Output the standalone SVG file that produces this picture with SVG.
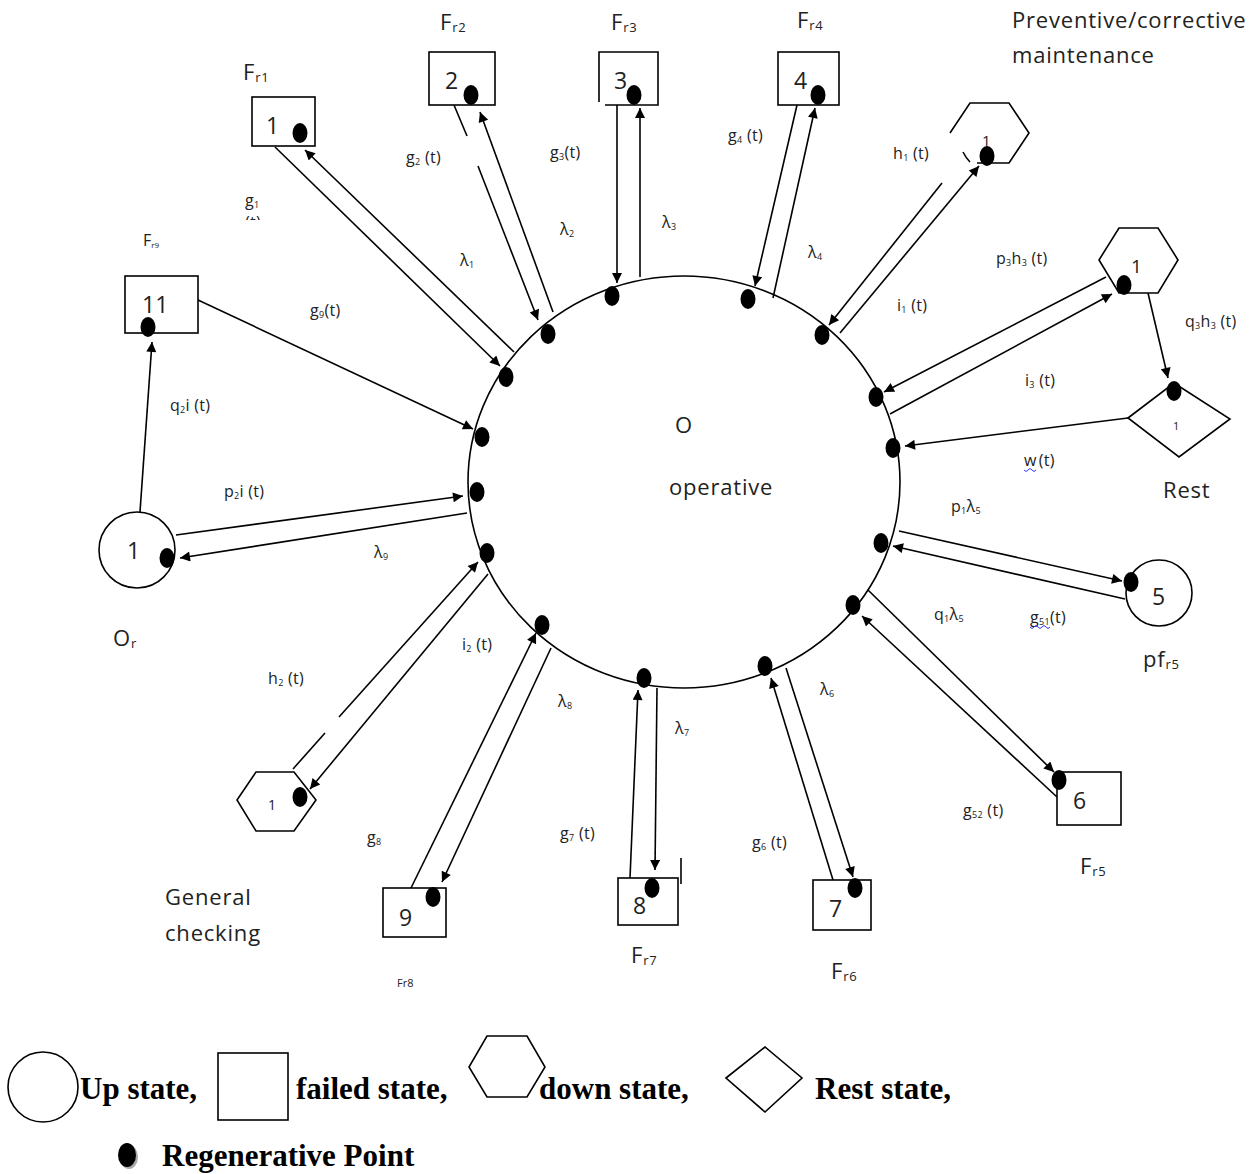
<svg xmlns="http://www.w3.org/2000/svg" width="1254" height="1174" viewBox="0 0 1254 1174">
<style>
.sh{fill:#fff;stroke:#000;stroke-width:1.6}
.ln{stroke:#000;stroke-width:1.6;fill:none}
.ar{stroke:#000;stroke-width:1.6;fill:none;marker-end:url(#arr)}
.dot{fill:#000}
.t{font-family:"Open Sans","DejaVu Sans",sans-serif;fill:#222}
.big{font-size:22px;letter-spacing:0.8px}
.num{font-size:23px}
.sm{font-size:16px;letter-spacing:0.3px}
.lg{font-family:"Liberation Serif","Times New Roman",serif;font-weight:bold;font-size:31px;fill:#000}
</style>
<defs>
<marker id="arr" viewBox="0 0 10 10" refX="10" refY="5" markerWidth="13" markerHeight="10" orient="auto" markerUnits="userSpaceOnUse">
<path d="M0,0 L10,5 L0,10 z" fill="#000"/>
</marker>
<clipPath id="clipT"><rect x="230" y="212" width="60" height="8"/></clipPath>
</defs>
<rect width="1254" height="1174" fill="#fff"/>

<g id="operative">
<ellipse class="ln" cx="684" cy="482" rx="216" ry="206"/>
<text class="t big" x="675" y="433">O</text>
<text class="t big" x="669" y="495">operative</text>
</g>

<g id="connectors">
<line class="ar" x1="275" y1="147" x2="500" y2="366"/>
<line class="ar" x1="514" y1="352" x2="305" y2="150"/>
<line class="ln" x1="454" y1="105" x2="467" y2="136"/>
<line class="ar" x1="478" y1="166" x2="538" y2="320"/>
<line class="ar" x1="553" y1="312" x2="480" y2="112"/>
<line class="ar" x1="617" y1="105" x2="617" y2="283"/>
<line class="ar" x1="640" y1="277" x2="640" y2="108"/>
<line class="ar" x1="797" y1="105" x2="755" y2="286"/>
<line class="ar" x1="773" y1="298" x2="815" y2="108"/>
<line class="ar" x1="942" y1="183" x2="829" y2="325"/>
<line class="ar" x1="840" y1="333" x2="979" y2="166"/>
<line class="ar" x1="1106" y1="277" x2="884" y2="392"/>
<line class="ar" x1="890" y1="414" x2="1112" y2="294"/>
<line class="ar" x1="1148" y1="293" x2="1168" y2="378"/>
<line class="ar" x1="1128" y1="418" x2="905" y2="446"/>
<line class="ar" x1="899" y1="531" x2="1122" y2="581"/>
<line class="ar" x1="1125" y1="599" x2="893" y2="546"/>
<line class="ar" x1="868" y1="590" x2="1054" y2="772"/>
<line class="ar" x1="1057" y1="797" x2="862" y2="616"/>
<line class="ar" x1="833" y1="880" x2="771" y2="678"/>
<line class="ar" x1="786" y1="668" x2="853" y2="877"/>
<line class="ar" x1="630" y1="878" x2="638" y2="690"/>
<line class="ar" x1="657" y1="688" x2="655" y2="870"/>
<line class="ln" x1="681" y1="858" x2="681" y2="884"/>
<line class="ar" x1="411" y1="888" x2="536" y2="633"/>
<line class="ar" x1="551" y1="648" x2="442" y2="882"/>
<line class="ln" x1="293" y1="769" x2="325" y2="733"/>
<line class="ar" x1="339" y1="717" x2="478" y2="562"/>
<line class="ar" x1="488" y1="574" x2="310" y2="789"/>
<line class="ar" x1="176" y1="535" x2="463" y2="496"/>
<line class="ar" x1="467" y1="513" x2="180" y2="558"/>
<line class="ar" x1="140" y1="512" x2="152" y2="342"/>
<line class="ar" x1="198" y1="300" x2="473" y2="429"/>
</g>

<g id="regen-points">
<ellipse class="dot" cx="506" cy="377" rx="7.5" ry="10"/>
<ellipse class="dot" cx="548" cy="334" rx="7.5" ry="10"/>
<ellipse class="dot" cx="612" cy="296" rx="7.5" ry="10"/>
<ellipse class="dot" cx="748" cy="299" rx="7.5" ry="10"/>
<ellipse class="dot" cx="822" cy="335" rx="7.5" ry="10"/>
<ellipse class="dot" cx="876" cy="397" rx="7.5" ry="10"/>
<ellipse class="dot" cx="893" cy="448" rx="7.5" ry="10"/>
<ellipse class="dot" cx="881" cy="543" rx="7.5" ry="10"/>
<ellipse class="dot" cx="853" cy="605" rx="7.5" ry="10"/>
<ellipse class="dot" cx="765" cy="666" rx="7.5" ry="10"/>
<ellipse class="dot" cx="644" cy="678" rx="7.5" ry="10"/>
<ellipse class="dot" cx="542" cy="625" rx="7.5" ry="10"/>
<ellipse class="dot" cx="487" cy="553" rx="7.5" ry="10"/>
<ellipse class="dot" cx="477" cy="492" rx="7.5" ry="10"/>
<ellipse class="dot" cx="482" cy="437" rx="7.5" ry="10"/>
</g>

<g id="fr1">
<rect class="sh" x="252" y="97" width="63" height="49"/>
<text class="t num" x="266" y="134">1</text>
<ellipse class="dot" cx="300" cy="133" rx="7.5" ry="10"/>
<text class="t big" x="243" y="80">F<tspan font-size="13" dy="2">r1</tspan></text>
</g>
<g id="fr2">
<rect class="sh" x="429" y="52" width="66" height="53"/>
<text class="t num" x="445" y="89">2</text>
<ellipse class="dot" cx="471" cy="95" rx="7.5" ry="10"/>
<text class="t big" x="440" y="30">F<tspan font-size="13" dy="2">r2</tspan></text>
</g>
<g id="fr3">
<polyline class="ln" points="599,102 599,52 658,52 658,105 605,105"/>
<text class="t num" x="614" y="89">3</text>
<ellipse class="dot" cx="634" cy="95" rx="7.5" ry="10"/>
<text class="t big" x="611" y="30">F<tspan font-size="13" dy="2">r3</tspan></text>
</g>
<g id="fr4">
<rect class="sh" x="778" y="52" width="61" height="53"/>
<text class="t num" x="794" y="89">4</text>
<ellipse class="dot" cx="818" cy="95" rx="7.5" ry="10"/>
<text class="t big" x="797" y="28">F<tspan font-size="13" dy="2">r4</tspan></text>
</g>
<g id="pm-hex">
<polyline class="ln" points="950,133 970,103 1009,103 1029,133 1009,163 977,163"/>
<path class="ln" d="M963,152 Q966,158 970,162"/>
<text class="t" font-size="15" x="982" y="146">1</text>
<ellipse class="dot" cx="987" cy="156" rx="7.5" ry="10"/>
<text class="t big" x="1012" y="28">Preventive/corrective</text>
<text class="t big" x="1012" y="63">maintenance</text>
</g>
<g id="hex2">
<polygon class="sh" points="1119,228 1158,228 1178,260 1158,293 1119,293 1099,260"/>
<text class="t" font-size="19" x="1131" y="273">1</text>
<ellipse class="dot" cx="1124" cy="285" rx="7.5" ry="10"/>
</g>
<g id="rest">
<polygon class="sh" points="1128,418 1174,383 1230,419 1179,457"/>
<text class="t" font-size="11" x="1173" y="430">1</text>
<ellipse class="dot" cx="1174" cy="391" rx="7.5" ry="10"/>
<text class="t big" x="1163" y="498">Rest</text>
</g>
<g id="pf5">
<circle class="sh" cx="1159" cy="593" r="33"/>
<text class="t num" x="1152" y="605">5</text>
<ellipse class="dot" cx="1131" cy="582" rx="7.5" ry="10"/>
<text class="t big" x="1143" y="667">pf<tspan font-size="13" dy="2">r5</tspan></text>
</g>
<g id="fr5">
<rect class="sh" x="1057" y="772" width="64" height="53"/>
<text class="t num" x="1073" y="809">6</text>
<ellipse class="dot" cx="1059" cy="780" rx="7.5" ry="10"/>
<text class="t big" x="1080" y="874">F<tspan font-size="13" dy="2">r5</tspan></text>
</g>
<g id="fr6">
<rect class="sh" x="813" y="880" width="58" height="50"/>
<text class="t num" x="829" y="917">7</text>
<ellipse class="dot" cx="855" cy="888" rx="7.5" ry="10"/>
<text class="t big" x="831" y="979">F<tspan font-size="13" dy="2">r6</tspan></text>
</g>
<g id="fr7">
<rect class="sh" x="618" y="878" width="60" height="47"/>
<text class="t num" x="633" y="914">8</text>
<ellipse class="dot" cx="652" cy="888" rx="7.5" ry="10"/>
<text class="t big" x="631" y="963">F<tspan font-size="13" dy="2">r7</tspan></text>
</g>
<g id="fr8">
<rect class="sh" x="383" y="888" width="63" height="49"/>
<text class="t num" x="399" y="926">9</text>
<ellipse class="dot" cx="433" cy="897" rx="7.5" ry="10"/>
<text class="t" font-size="11" x="397" y="987">Fr8</text>
</g>
<g id="gc-hex">
<polygon class="sh" points="237,800 256,772 294,772 316,800 294,831 256,831"/>
<text class="t" font-size="14" x="268" y="810">1</text>
<ellipse class="dot" cx="300" cy="797" rx="7.5" ry="10"/>
<text class="t big" x="165" y="905">General</text>
<text class="t big" x="165" y="941">checking</text>
</g>
<g id="or">
<circle class="sh" cx="137" cy="550" r="38"/>
<text class="t num" x="127" y="559">1</text>
<ellipse class="dot" cx="167" cy="558" rx="7.5" ry="10"/>
<text class="t big" x="113" y="646">O<tspan font-size="13" dy="2">r</tspan></text>
</g>
<g id="fr9">
<rect class="sh" x="125" y="276" width="73" height="57"/>
<text class="t num" x="142" y="313">11</text>
<ellipse class="dot" cx="148" cy="327" rx="7.5" ry="10"/>
<text class="t" font-size="16" x="143" y="246">F<tspan font-size="8" dy="2">r9</tspan></text>
</g>

<g id="labels" class="t sm">
<text x="245" y="206">g<tspan font-size="9" dy="2">1</tspan></text>
<text x="245" y="228" clip-path="url(#clipT)">(t)</text>
<text x="406" y="163">g<tspan font-size="9" dy="2">2</tspan><tspan dy="-2"> (t)</tspan></text>
<text x="550" y="158">g<tspan font-size="9" dy="2">3</tspan><tspan dy="-2">(t)</tspan></text>
<text x="728" y="141">g<tspan font-size="9" dy="2">4</tspan><tspan dy="-2"> (t)</tspan></text>
<text x="893" y="159">h<tspan font-size="9" dy="2">1</tspan><tspan dy="-2"> (t)</tspan></text>
<text x="460" y="266">λ<tspan font-size="9" dy="2">1</tspan></text>
<text x="560" y="235">λ<tspan font-size="9" dy="2">2</tspan></text>
<text x="662" y="228">λ<tspan font-size="9" dy="2">3</tspan></text>
<text x="808" y="258">λ<tspan font-size="9" dy="2">4</tspan></text>
<text x="310" y="316">g<tspan font-size="9" dy="2">9</tspan><tspan dy="-2">(t)</tspan></text>
<text x="996" y="264">p<tspan font-size="9" dy="2">3</tspan><tspan dy="-2">h</tspan><tspan font-size="9" dy="2">3</tspan><tspan dy="-2"> (t)</tspan></text>
<text x="897" y="311">i<tspan font-size="9" dy="2">1</tspan><tspan dy="-2"> (t)</tspan></text>
<text x="1185" y="327">q<tspan font-size="9" dy="2">3</tspan><tspan dy="-2">h</tspan><tspan font-size="9" dy="2">3</tspan><tspan dy="-2"> (t)</tspan></text>
<text x="1025" y="386">i<tspan font-size="9" dy="2">3</tspan><tspan dy="-2"> (t)</tspan></text>
<text x="1024" y="466">w<tspan dx="2">(t)</tspan></text>
<path d="M1024,470 q2,3 4,0 t4,0 t4,0" stroke="#33f" stroke-width="1" fill="none"/>
<text x="951" y="512">p<tspan font-size="9" dy="2">1</tspan><tspan dy="-2">λ</tspan><tspan font-size="9" dy="2">5</tspan></text>
<text x="934" y="620">q<tspan font-size="9" dy="2">1</tspan><tspan dy="-2">λ</tspan><tspan font-size="9" dy="2">5</tspan></text>
<text x="1030" y="623">g<tspan font-size="9" dy="2">51</tspan><tspan dy="-2">(t)</tspan></text>
<path d="M1030,627 q2,3 4,0 t4,0 t4,0 t4,0 t4,0" stroke="#33f" stroke-width="1" fill="none"/>
<text x="170" y="411">q<tspan font-size="9" dy="2">2</tspan><tspan dy="-2">i (t)</tspan></text>
<text x="224" y="497">p<tspan font-size="9" dy="2">2</tspan><tspan dy="-2">i (t)</tspan></text>
<text x="374" y="558">λ<tspan font-size="9" dy="2">9</tspan></text>
<text x="268" y="684">h<tspan font-size="9" dy="2">2</tspan><tspan dy="-2"> (t)</tspan></text>
<text x="462" y="650">i<tspan font-size="9" dy="2">2</tspan><tspan dy="-2"> (t)</tspan></text>
<text x="558" y="707">λ<tspan font-size="9" dy="2">8</tspan></text>
<text x="675" y="734">λ<tspan font-size="9" dy="2">7</tspan></text>
<text x="820" y="695">λ<tspan font-size="9" dy="2">6</tspan></text>
<text x="367" y="843">g<tspan font-size="9" dy="2">8</tspan></text>
<text x="560" y="839">g<tspan font-size="9" dy="2">7</tspan><tspan dy="-2"> (t)</tspan></text>
<text x="752" y="848">g<tspan font-size="9" dy="2">6</tspan><tspan dy="-2"> (t)</tspan></text>
<text x="963" y="816">g<tspan font-size="9" dy="2">52</tspan><tspan dy="-2"> (t)</tspan></text>
</g>

<g id="legend">
<circle class="sh" cx="43" cy="1087" r="35"/>
<text class="lg" x="80" y="1099">Up state,</text>
<rect class="sh" x="218" y="1053" width="70" height="67"/>
<text class="lg" x="296" y="1099">failed state,</text>
<polygon class="sh" points="487,1036 527,1036 545,1067 527,1097 487,1097 469,1067"/>
<text class="lg" x="539" y="1099">down state,</text>
<polygon class="sh" points="726,1078 765,1047 802,1078 765,1112"/>
<text class="lg" x="815" y="1099">Rest state,</text>
<ellipse cx="129" cy="1157" rx="9" ry="12" fill="#aaa"/>
<ellipse class="dot" cx="127" cy="1155" rx="9" ry="12"/>
<text class="lg" x="162" y="1166">Regenerative Point</text>
</g>
</svg>
